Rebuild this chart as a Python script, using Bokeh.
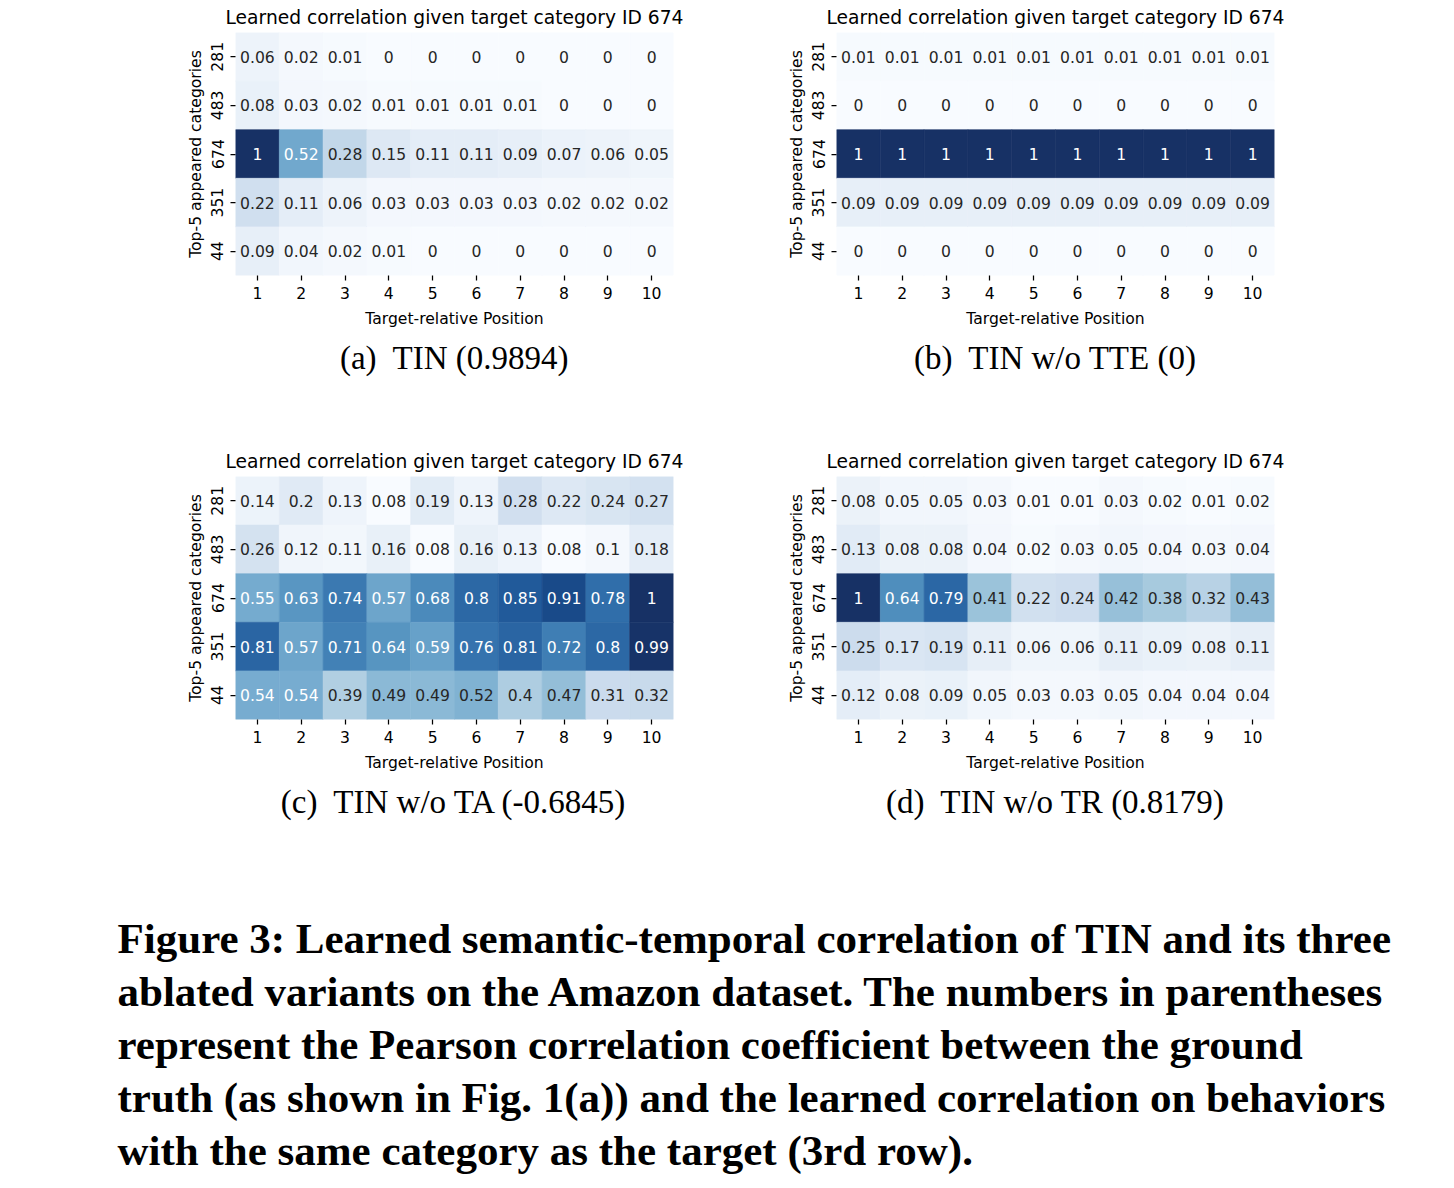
from bokeh.plotting import figure
from bokeh.models import ColumnDataSource, FactorRange, LinearColorMapper, Title, Label, Range1d
from bokeh.layouts import column, row
from bokeh.embed import file_html
from bokeh.resources import INLINE
from bokeh.core.properties import value
from bokeh.palettes import Blues9

# ---------------- data ----------------
positions = [str(i) for i in range(1, 11)]
categories = ["281", "483", "674", "351", "44"]

tin = [
    [0.06, 0.02, 0.01, 0, 0, 0, 0, 0, 0, 0],
    [0.08, 0.03, 0.02, 0.01, 0.01, 0.01, 0.01, 0, 0, 0],
    [1, 0.52, 0.28, 0.15, 0.11, 0.11, 0.09, 0.07, 0.06, 0.05],
    [0.22, 0.11, 0.06, 0.03, 0.03, 0.03, 0.03, 0.02, 0.02, 0.02],
    [0.09, 0.04, 0.02, 0.01, 0, 0, 0, 0, 0, 0],
]
tin_wo_tte = [
    [0.01, 0.01, 0.01, 0.01, 0.01, 0.01, 0.01, 0.01, 0.01, 0.01],
    [0, 0, 0, 0, 0, 0, 0, 0, 0, 0],
    [1, 1, 1, 1, 1, 1, 1, 1, 1, 1],
    [0.09, 0.09, 0.09, 0.09, 0.09, 0.09, 0.09, 0.09, 0.09, 0.09],
    [0, 0, 0, 0, 0, 0, 0, 0, 0, 0],
]
tin_wo_ta = [
    [0.14, 0.2, 0.13, 0.08, 0.19, 0.13, 0.28, 0.22, 0.24, 0.27],
    [0.26, 0.12, 0.11, 0.16, 0.08, 0.16, 0.13, 0.08, 0.1, 0.18],
    [0.55, 0.63, 0.74, 0.57, 0.68, 0.8, 0.85, 0.91, 0.78, 1],
    [0.81, 0.57, 0.71, 0.64, 0.59, 0.76, 0.81, 0.72, 0.8, 0.99],
    [0.54, 0.54, 0.39, 0.49, 0.49, 0.52, 0.4, 0.47, 0.31, 0.32],
]
tin_wo_tr = [
    [0.08, 0.05, 0.05, 0.03, 0.01, 0.01, 0.03, 0.02, 0.01, 0.02],
    [0.13, 0.08, 0.08, 0.04, 0.02, 0.03, 0.05, 0.04, 0.03, 0.04],
    [1, 0.64, 0.79, 0.41, 0.22, 0.24, 0.42, 0.38, 0.32, 0.43],
    [0.25, 0.17, 0.19, 0.11, 0.06, 0.06, 0.11, 0.09, 0.08, 0.11],
    [0.12, 0.08, 0.09, 0.05, 0.03, 0.03, 0.05, 0.04, 0.04, 0.04],
]

title_text = "Learned correlation given target category ID 674"
x_label = "Target-relative Position"
y_label = "Top-5 appeared categories"
subcaptions = [
    "(a)\u00a0 TIN (0.9894)",
    "(b)\u00a0 TIN w/o TTE (0)",
    "(c)\u00a0 TIN w/o TA (-0.6845)",
    "(d)\u00a0 TIN w/o TR (0.8179)",
]
caption_lines = [
    "Figure 3: Learned semantic-temporal correlation of TIN and its three",
    "ablated variants on the Amazon dataset. The numbers in parentheses",
    "represent the Pearson correlation coefficient between the ground",
    "truth (as shown in Fig. 1(a)) and the learned correlation on behaviors",
    "with the same category as the target (3rd row).",
]

# ---------------- colour map (matplotlib "Blues") ----------------
base = list(reversed(Blues9))  # light -> dark


def _rgb(h):
    h = h.lstrip("#")
    return [int(h[i:i + 2], 16) for i in (0, 2, 4)]


def _hex(c):
    return "#%02x%02x%02x" % tuple(max(0, min(255, round(v))) for v in c)


def blues_rgb(t):
    pos = t * (len(base) - 1)
    i = min(int(pos), len(base) - 2)
    f = pos - i
    a, b = _rgb(base[i]), _rgb(base[i + 1])
    return [a[k] + (b[k] - a[k]) * f for k in range(3)]


def printed(c):
    # slightly muted rendition, as in the printed figure
    m = sum(c) / 3
    c = [v + 0.12 * (m - v) for v in c]
    c[0] = c[0] + 10 * (1 - c[0] / 255)
    return c


true_palette = [_hex(blues_rgb(i / 255)) for i in range(256)]
palette = [_hex(printed(blues_rgb(i / 255))) for i in range(256)]


def luminance(h):
    out = []
    for c in _rgb(h):
        c = c / 255
        out.append(c / 12.92 if c <= 0.03928 else ((c + 0.055) / 1.055) ** 2.4)
    return 0.2126 * out[0] + 0.7152 * out[1] + 0.0722 * out[2]


def fmt(v):
    return format(v, ".2g")


FONT = value("DejaVu Sans")
SMALL = "15.6px"


def heatmap(values, subcap, width, left, right):
    flat = [v for r in values for v in r]
    vmin, vmax = min(flat), max(flat)
    mapper = LinearColorMapper(palette=palette, low=vmin, high=vmax)
    xs, ys, vs, labels, tcols = [], [], [], [], []
    for ri, cat in enumerate(categories):
        for ci, pos in enumerate(positions):
            v = values[ri][ci]
            idx = min(int((v - vmin) / (vmax - vmin) * 256), 255)
            xs.append(pos)
            ys.append(cat)
            vs.append(v)
            labels.append(fmt(v))
            tcols.append("#262626" if luminance(true_palette[idx]) > 0.408 else "#ffffff")
    src = ColumnDataSource(dict(x=xs, y=ys, v=vs, label=labels, tc=tcols))

    p = figure(width=width, height=444,
               x_range=FactorRange(*positions),
               y_range=FactorRange(*categories[::-1]),
               output_backend="svg", toolbar_location=None,
               min_border_left=left, min_border_right=right,
               min_border_top=32, min_border_bottom=169)
    p.rect(x="x", y="y", width=1, height=1, source=src,
           fill_color={"field": "v", "transform": mapper},
           line_color={"field": "v", "transform": mapper}, line_width=0.6)
    p.text(x="x", y="y", text="label", source=src, text_color="tc",
           text_align="center", text_baseline="middle",
           text_font=FONT, text_font_size=SMALL)

    p.title.text = title_text
    p.title.align = "center"
    p.title.text_font = "DejaVu Sans"
    p.title.text_font_size = "18.7px"
    p.title.text_font_style = "normal"
    p.title.text_color = "#000000"
    p.title.standoff = 9

    p.xaxis.axis_label = x_label
    p.yaxis.axis_label = y_label
    for ax in (p.xaxis, p.yaxis):
        ax.axis_line_color = None
        ax.major_tick_in = 0
        ax.major_tick_out = 5
        ax.major_tick_line_width = 1.25
        ax.major_tick_line_color = "#000000"
        ax.major_label_text_font = "DejaVu Sans"
        ax.major_label_text_font_size = SMALL
        ax.major_label_text_color = "#000000"
        ax.axis_label_text_font = "DejaVu Sans"
        ax.axis_label_text_font_size = SMALL
        ax.axis_label_text_font_style = "normal"
        ax.axis_label_text_color = "#000000"
    p.xaxis.major_label_standoff = 6
    p.xaxis.axis_label_standoff = 8
    p.yaxis.major_label_standoff = 7
    p.yaxis.axis_label_standoff = 4
    p.yaxis.major_label_orientation = "vertical"
    p.grid.visible = False
    p.outline_line_color = None
    p.background_fill_color = "#ffffff"
    p.border_fill_color = "#ffffff"

    p.add_layout(Title(text=subcap, align="center", text_font="Liberation Serif",
                       text_font_size="33px", text_font_style="normal",
                       text_color="#000000", standoff=14), "below")
    return p


pa = heatmap(tin, subcaptions[0], 760, 235, 87)
pb = heatmap(tin_wo_tte, subcaptions[1], 686, 76, 172)
pc = heatmap(tin_wo_ta, subcaptions[2], 760, 235, 87)
pd = heatmap(tin_wo_tr, subcaptions[3], 686, 76, 172)

cap = figure(width=1438, height=296, output_backend="svg", toolbar_location=None,
             x_range=Range1d(0, 1438), y_range=Range1d(0, 296),
             x_axis_location=None, y_axis_location=None, min_border=0)
cap.grid.visible = False
cap.outline_line_color = None
for k, line in enumerate(caption_lines):
    cap.add_layout(Label(x=117, y=246 - 53 * k, x_units="screen", y_units="screen",
                         text=line, text_font="Liberation Serif", text_font_size="43px",
                         text_font_style="bold", text_color="#000000",
                         text_align="left", text_baseline="alphabetic"))

layout = column(row(pa, pb), row(pc, pd), cap)
open("out.html", "w").write(file_html(layout, INLINE))
